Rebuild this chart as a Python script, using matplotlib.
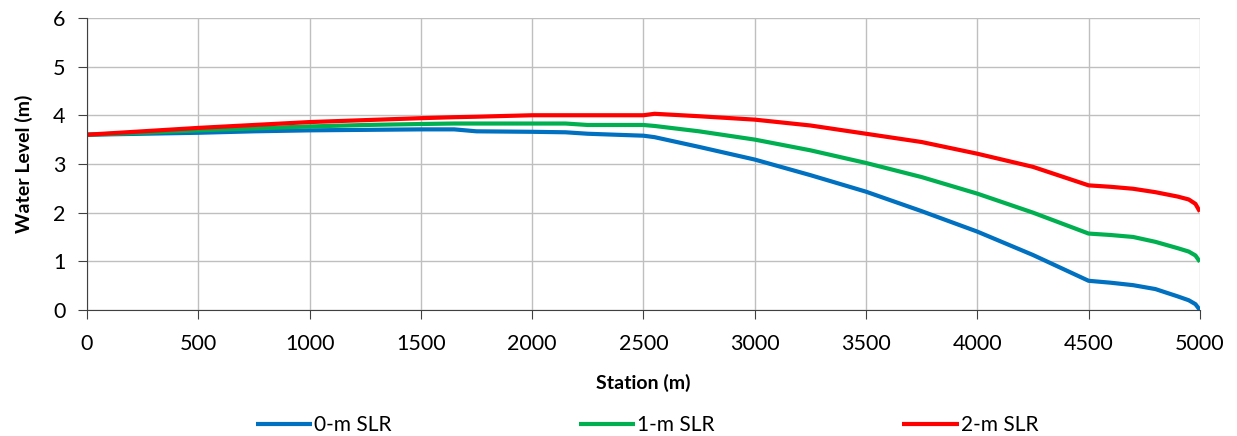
import matplotlib
matplotlib.use("Agg")
import matplotlib.pyplot as plt

plt.rcParams["font.family"] = ["Lato", "DejaVu Sans"]

# station (m)
station = [0, 250, 500, 750, 1000, 1250, 1500, 1650, 1750, 2000, 2150, 2250,
           2500, 2550, 2750, 3000, 3250, 3500, 3750, 4000, 4250, 4500, 4600,
           4700, 4800, 4900, 4950, 4980, 5000]
# water level (m) per sea level rise scenario
slr0 = [3.60, 3.62, 3.64, 3.67, 3.69, 3.70, 3.71, 3.71, 3.67, 3.66, 3.65, 3.62,
        3.58, 3.55, 3.35, 3.09, 2.77, 2.43, 2.03, 1.61, 1.13, 0.60, 0.56,
        0.51, 0.43, 0.28, 0.20, 0.12, 0.00]
slr1 = [3.60, 3.64, 3.69, 3.73, 3.77, 3.80, 3.82, 3.83, 3.83, 3.83, 3.83, 3.80,
        3.80, 3.78, 3.67, 3.50, 3.28, 3.02, 2.73, 2.39, 2.00, 1.57, 1.54,
        1.50, 1.40, 1.27, 1.20, 1.12, 0.99]
slr2 = [3.60, 3.67, 3.74, 3.80, 3.86, 3.90, 3.94, 3.96, 3.97, 4.00, 4.00, 4.00,
        4.00, 4.03, 3.98, 3.91, 3.79, 3.62, 3.45, 3.21, 2.94, 2.56, 2.53,
        2.49, 2.42, 2.33, 2.27, 2.18, 2.02]
labels = ["0-m SLR", "1-m SLR", "2-m SLR"]
colors = ["#0070C0", "#00B050", "#FF0000"]

fig = plt.figure(figsize=(12.37, 4.36), dpi=100)
ax = fig.add_axes([0.0703, 0.289, 0.8997, 0.670])

for ys, lab, c in zip([slr0, slr1, slr2], labels, colors):
    ax.plot(station, ys, color=c, lw=3.0, label=lab, solid_capstyle="butt")

ax.set_xlim(0, 5000)
ax.set_ylim(0, 6)
ax.set_xticks(range(0, 5001, 500))
ax.set_yticks(range(0, 7))
ax.grid(True, color="#BFBFBF", lw=1.0)
ax.set_axisbelow(True)
for s in ["top", "right"]:
    ax.spines[s].set_visible(False)
for s in ["left", "bottom"]:
    ax.spines[s].set_color("#404040")
ax.tick_params(axis="both", labelsize=15.5, color="#404040", length=6.5)
ax.tick_params(axis="x", pad=11)
ax.tick_params(axis="y", pad=9)

ax.set_xlabel("Station (m)", fontsize=14, fontweight="bold", labelpad=14)
ax.set_ylabel("Water Level (m)", fontsize=14, fontweight="bold", labelpad=14)

fig.legend(loc="center", bbox_to_anchor=(0.523, 0.025), ncol=3, frameon=False,
           fontsize=15, handlelength=2.7, handletextpad=0.1, columnspacing=9.0)

fig.savefig("out.png", dpi=100)
